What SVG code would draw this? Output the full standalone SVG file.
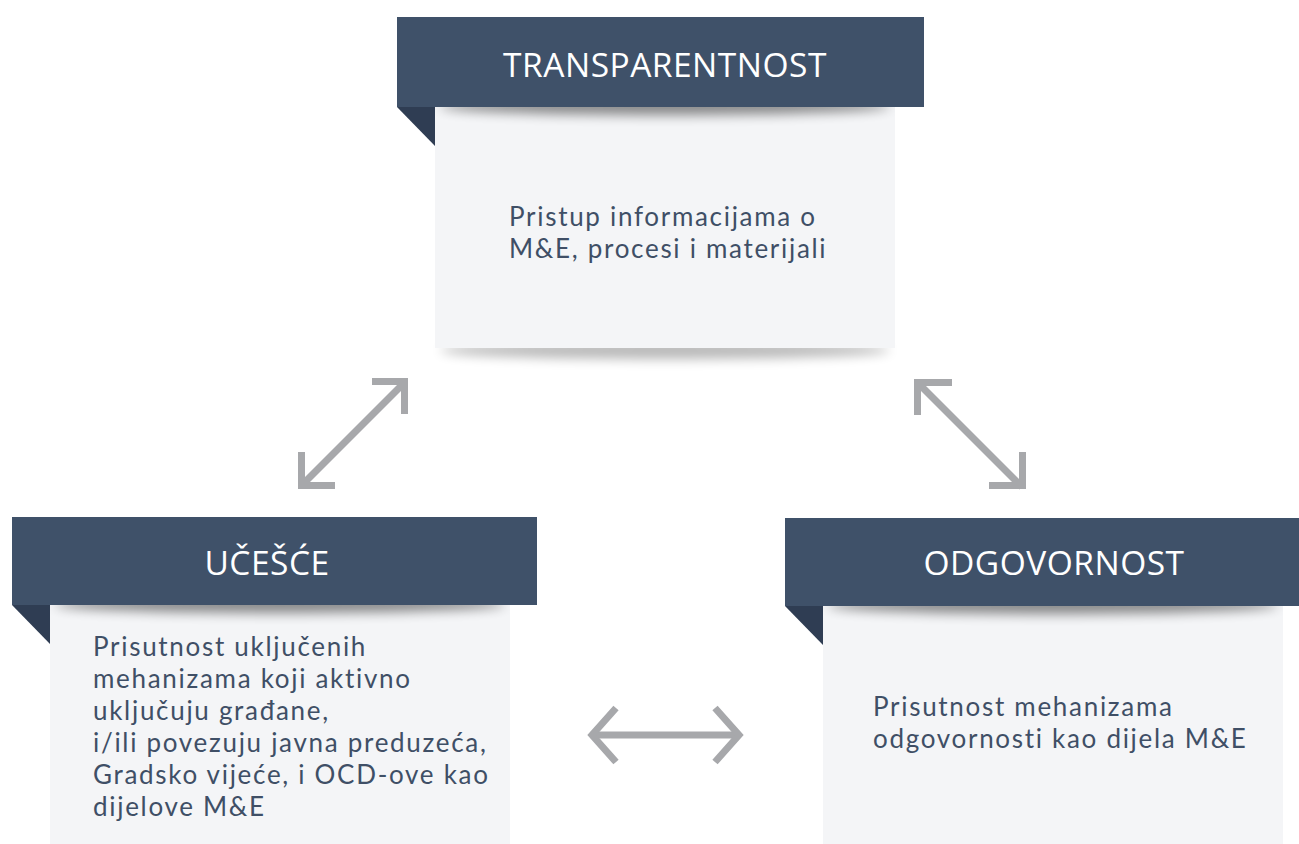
<svg xmlns="http://www.w3.org/2000/svg" width="1299" height="844" viewBox="0 0 1299 844">
  <style>
    .banner { fill: #3f5169; }
    .fold { fill: #2f3d53; }
    .card { fill: #f4f5f7; }
    .title { font-family: "Open Sans", "Noto Sans", sans-serif; font-weight: 500; font-size: 33.5px; letter-spacing: 0.5px; fill: #ffffff; text-anchor: middle; }
    .body { font-family: Lato, "Open Sans", sans-serif; font-weight: 400; font-size: 26px; letter-spacing: 1.7px; fill: #3f4f66; }
    .conn { fill: none; stroke: #a7a8ab; stroke-width: 7; stroke-linecap: butt; stroke-linejoin: miter; }
  </style>
  <defs>
    <filter id="soft" x="-20%" y="-200%" width="140%" height="500%">
      <feGaussianBlur stdDeviation="6"/>
    </filter>
    <clipPath id="clipTop"><rect x="435" y="107" width="460" height="241"/></clipPath>
    <clipPath id="clipLeft"><rect x="50" y="605" width="460" height="239"/></clipPath>
    <clipPath id="clipRight"><rect x="823" y="606" width="460" height="238"/></clipPath>
  </defs>

  <rect width="1299" height="844" fill="#ffffff"/>

  <!-- Transparentnost -->
  <g id="transparentnost">
    <ellipse cx="665" cy="350" rx="225" ry="9" fill="#000" opacity="0.28" filter="url(#soft)"/>
    <rect class="card" x="435" y="107" width="460" height="241"/>
    <ellipse cx="665" cy="106" rx="225" ry="9" fill="#000" opacity="0.45" filter="url(#soft)" clip-path="url(#clipTop)"/>
    <polygon class="fold" points="397,107 435,107 435,146"/>
    <rect class="banner" x="397" y="17" width="527" height="90"/>
    <text class="title" x="665" y="77">TRANSPARENTNOST</text>
    <text class="body" x="509" y="226">Pristup informacijama o</text>
    <text class="body" x="509" y="258">M&amp;E, procesi i materijali</text>
  </g>

  <!-- Učešće -->
  <g id="ucesce">
    <rect class="card" x="50" y="605" width="460" height="239"/>
    <ellipse cx="280" cy="604" rx="225" ry="9" fill="#000" opacity="0.45" filter="url(#soft)" clip-path="url(#clipLeft)"/>
    <polygon class="fold" points="12,605 50,605 50,644"/>
    <rect class="banner" x="12" y="517" width="525" height="88"/>
    <text class="title" x="267" y="575">UČEŠĆE</text>
    <text class="body" x="93" y="656">Prisutnost uključenih</text>
    <text class="body" x="93" y="688">mehanizama koji aktivno</text>
    <text class="body" x="93" y="720">uključuju građane,</text>
    <text class="body" x="93" y="752">i/ili povezuju javna preduzeća,</text>
    <text class="body" x="93" y="784">Gradsko vijeće, i OCD-ove kao</text>
    <text class="body" x="93" y="816">dijelove M&amp;E</text>
  </g>

  <!-- Odgovornost -->
  <g id="odgovornost">
    <rect class="card" x="823" y="606" width="460" height="238"/>
    <ellipse cx="1053" cy="605" rx="225" ry="9" fill="#000" opacity="0.45" filter="url(#soft)" clip-path="url(#clipRight)"/>
    <polygon class="fold" points="785,606 823,606 823,645"/>
    <rect class="banner" x="785" y="518" width="514" height="88"/>
    <text class="title" x="1054" y="575">ODGOVORNOST</text>
    <text class="body" x="873" y="716">Prisutnost mehanizama</text>
    <text class="body" x="873" y="748">odgovornosti kao dijela M&amp;E</text>
  </g>

  <!-- Connectors: double-headed arrows between the three principles -->
  <g id="connectors">
    <!-- Transparentnost ↔ Učešće -->
    <line class="conn" x1="301" y1="486" x2="405" y2="382"/>
    <polyline class="conn" points="372,381.5 404.5,381.5 404.5,414"/>
    <polyline class="conn" points="301.5,452 301.5,485.5 335,485.5"/>
    <!-- Transparentnost ↔ Odgovornost -->
    <line class="conn" x1="918" y1="383" x2="1022" y2="487"/>
    <polyline class="conn" points="952,382.5 917.5,382.5 917.5,415"/>
    <polyline class="conn" points="1022.5,452 1022.5,485.5 989,485.5"/>
    <!-- Učešće ↔ Odgovornost -->
    <line class="conn" x1="592" y1="735" x2="739" y2="735"/>
    <polyline class="conn" points="616,708 592,735 616,762"/>
    <polyline class="conn" points="715,708 739,735 715,762"/>
  </g>
</svg>
